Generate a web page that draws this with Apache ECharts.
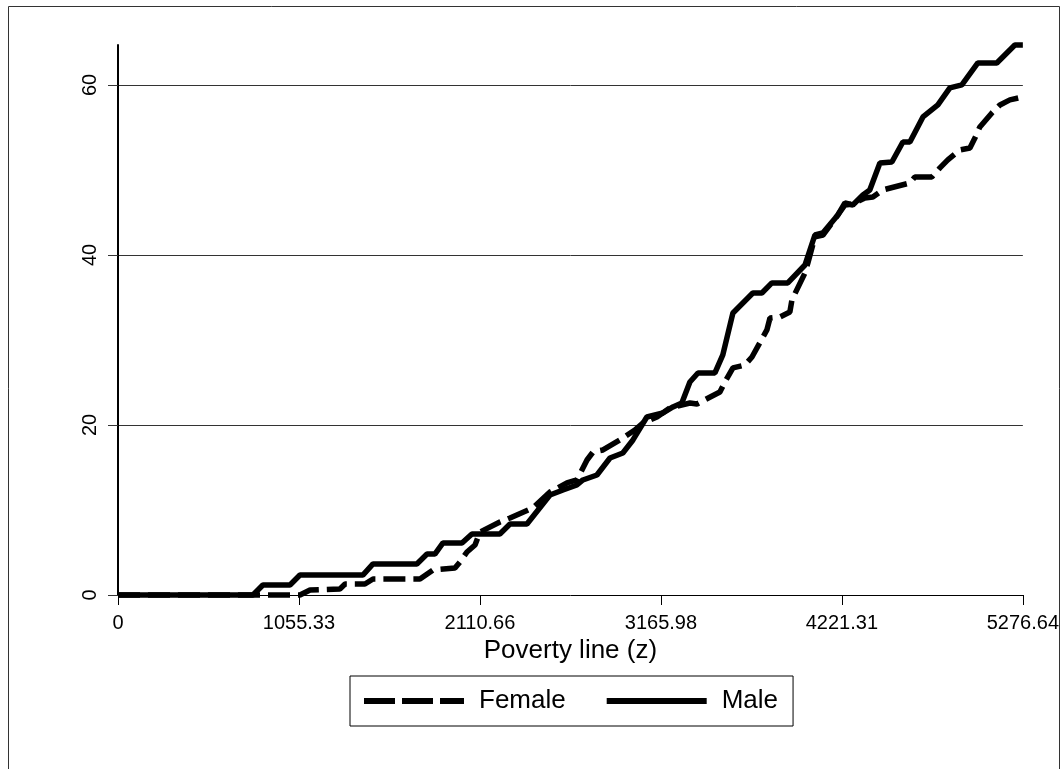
<!DOCTYPE html>
<html>
<head>
<meta charset="utf-8">
<script src="https://cdn.jsdelivr.net/npm/echarts@6/dist/echarts.min.js"></script>
<style>
html,body{margin:0;padding:0;background:#fff;}
#chart{width:1062px;height:769px;}
</style>
</head>
<body>
<div id="chart"></div>
<script>
const xTicks = [0, 1055.33, 2110.66, 3165.98, 4221.31, 5276.64];
const yTicks = [0, 20, 40, 60];
const seriesNames = ['Female', 'Male'];

const femaleData = [
  [0,0],[1061,0],[1120,0.59],[1294,0.71],[1324,1.29],[1440,1.29],[1487,1.88],[1761,1.88],
  [1837,2.94],[1965,3.18],[1994,3.88],[2035,5.06],[2082,5.88],[2111,7.41],[2227,8.59],
  [2286,9.06],[2420,10.24],[2519,12.12],[2618,13.18],[2676,13.53],[2735,15.88],[2770,16.82],
  [2828,17.06],[2927,18.24],[3014,19.41],[3061,20.24],[3143,20.94],[3218,22.0],[3335,22.59],
  [3376,22.47],[3510,23.88],[3539,25.06],[3586,26.71],[3656,27.06],[3697,28.0],[3784,31.18],
  [3802,32.59],[3860,32.71],[3918,33.29],[3930,34.71],[4006,37.88],[4023,39.06],[4064,42.12],
  [4111,42.35],[4198,44.71],[4239,45.88],[4285,46.0],[4355,46.71],[4402,46.82],[4460,47.65],
  [4618,48.47],[4647,49.18],[4746,49.18],[4793,50.24],[4839,51.18],[4909,52.35],[4968,52.59],
  [4997,53.76],[5026,55.06],[5096,56.71],[5143,57.65],[5201,58.24],[5276.64,58.59]
];

const maleData = [
  [0,0],[787,0],[845,1.18],[1003,1.18],[1061,2.35],[1428,2.35],[1487,3.65],[1743,3.65],
  [1802,4.82],[1848,4.82],[1895,6.12],[2006,6.12],[2064,7.18],[2227,7.18],[2286,8.35],
  [2385,8.35],[2519,11.76],[2595,12.35],[2676,12.94],[2711,13.53],[2793,14.12],[2869,16.12],
  [2944,16.71],[3003,18.24],[3084,20.94],[3178,21.41],[3236,22.12],[3288,22.59],[3335,25.06],
  [3382,26.12],[3481,26.12],[3527,28.24],[3586,33.18],[3702,35.53],[3755,35.53],[3813,36.71],
  [3906,36.71],[4006,38.82],[4064,42.35],[4110,42.59],[4198,44.71],[4239,46.12],[4285,45.88],
  [4344,47.06],[4384,47.65],[4443,50.82],[4513,50.94],[4577,53.29],[4618,53.29],[4694,56.24],
  [4781,57.65],[4851,59.65],[4921,60.0],[5014,62.59],[5125,62.59],[5230,64.7],[5276.64,64.7]
];

const FONT = '"Liberation Sans", Arial, sans-serif';
const chart = echarts.init(document.getElementById('chart'), null, {renderer: 'canvas'});

chart.setOption({
  animation: false,
  backgroundColor: '#ffffff',
  textStyle: {fontFamily: FONT, color: '#000'},
  graphic: [{
    type: 'rect',
    shape: {x: 8.5, y: 6.5, width: 1051, height: 800},
    style: {fill: 'none', stroke: '#333', lineWidth: 1},
    silent: true, z: -10
  }],
  grid: {left: 118, right: 39, top: 45, bottom: 174, containLabel: false},
  xAxis: {
    type: 'value',
    min: 0,
    max: 5276.64,
    name: 'Poverty line (z)',
    nameLocation: 'middle',
    nameGap: 37,
    nameTextStyle: {fontSize: 26, fontFamily: FONT, color: '#000'},
    axisLine: {show: true, onZero: false, lineStyle: {color: '#000', width: 1}},
    axisTick: {show: true, length: 10, customValues: xTicks, lineStyle: {color: '#000', width: 1}},
    axisLabel: {
      customValues: xTicks,
      fontSize: 20, fontFamily: FONT, color: '#000', margin: 18,
      formatter: v => (v === 0 ? '0' : Number(v).toFixed(2))
    },
    splitLine: {show: false}
  },
  yAxis: {
    type: 'value',
    min: 0,
    max: 64.7,
    axisLine: {show: true, onZero: false, lineStyle: {color: '#000', width: 2}},
    axisTick: {show: true, length: 10, customValues: yTicks, lineStyle: {color: '#333', width: 1}},
    axisLabel: {
      customValues: yTicks,
      rotate: 90,
      fontSize: 20, fontFamily: FONT, color: '#000', margin: 18
    },
    splitLine: {show: true, showMinLine: false, showMaxLine: true, lineStyle: {color: '#333', width: 1}}
  },
  legend: {
    left: 350,
    top: 676,
    orient: 'horizontal',
    padding: [12, 15, 12, 11],
    borderColor: '#000',
    borderWidth: 1,
    itemWidth: 100,
    itemHeight: 6,
    itemGap: 38,
    textStyle: {fontSize: 26, fontFamily: FONT, color: '#000', padding: [0, 0, 0, 10]},
    data: [
      {name: seriesNames[0], lineStyle: {type: [31, 7], width: 6}},
      {name: seriesNames[1], lineStyle: {width: 6}}
    ]
  },
  series: [
    {
      name: seriesNames[0],
      type: 'line',
      data: femaleData,
      symbol: 'none',
      showSymbol: false,
      clip: false,
      lineStyle: {color: '#000', width: 5.5, type: [22, 8], cap: 'butt'},
      itemStyle: {color: '#000'},
      z: 3
    },
    {
      name: seriesNames[1],
      type: 'line',
      data: maleData,
      symbol: 'none',
      showSymbol: false,
      clip: false,
      lineStyle: {color: '#000', width: 5.5, type: 'solid'},
      itemStyle: {color: '#000'},
      z: 4
    }
  ]
});
</script>
</body>
</html>
